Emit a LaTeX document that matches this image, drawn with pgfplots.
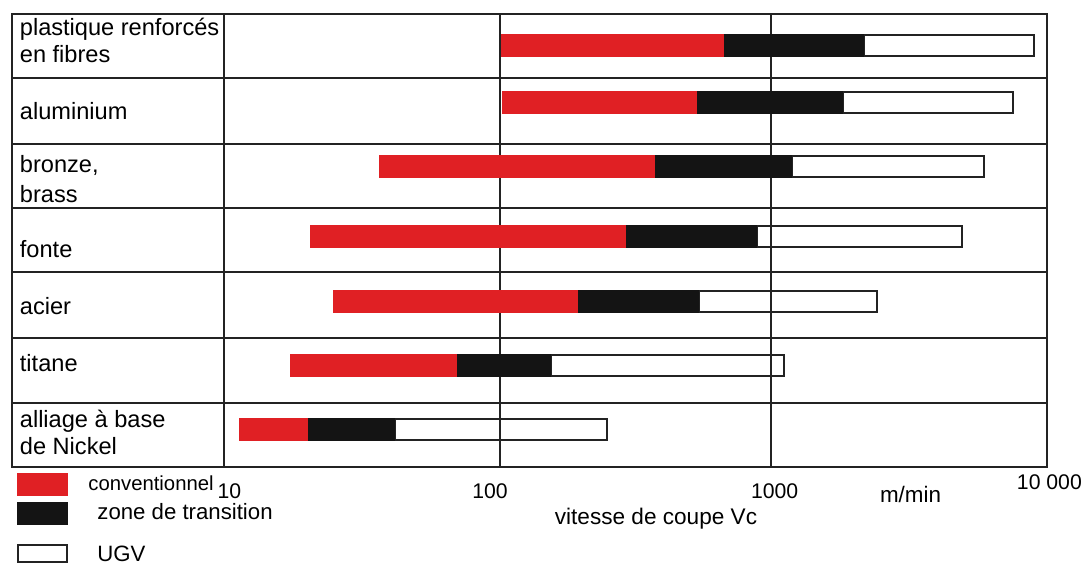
\documentclass[border=0pt]{standalone}
\usepackage{fontspec}
\setmainfont{Liberation Sans}
\usepackage{pgfplots}
\pgfplotsset{compat=1.18}
\definecolor{cred}{RGB}{224,32,36}
\definecolor{cblk}{RGB}{20,20,20}
\definecolor{cline}{RGB}{35,35,35}
\newcommand{\catfont}{\fontsize{11.8}{13.5}\selectfont}
\begin{document}
\begin{tikzpicture}
\useasboundingbox (0,0) rectangle (546pt,282.5pt);
% ---------- left column with material names ----------
\begin{axis}[
  at={(6pt,49pt)}, anchor=south west, scale only axis,
  width=106pt, height=226.5pt,
  xmin=12, xmax=224, ymin=-467, ymax=-14,
  xtick=\empty, ytick={-78,-144,-208,-272,-338,-403}, yticklabels={},
  major tick length=0pt, ymajorgrids,
  grid style={cline, line width=1.1pt},
  axis line style={cline, line width=1.1pt},
  clip=false]
\node[anchor=base west, font=\catfont, inner sep=0pt] at (axis cs:19.5,-36) {plastique renforcés};
\node[anchor=base west, font=\catfont, inner sep=0pt] at (axis cs:19.5,-63) {en fibres};
\node[anchor=base west, font=\catfont, inner sep=0pt] at (axis cs:19.5,-120) {aluminium};
\node[anchor=base west, font=\catfont, inner sep=0pt] at (axis cs:19.5,-173) {bronze,};
\node[anchor=base west, font=\catfont, inner sep=0pt] at (axis cs:19.5,-203) {brass};
\node[anchor=base west, font=\catfont, inner sep=0pt] at (axis cs:19.5,-258) {fonte};
\node[anchor=base west, font=\catfont, inner sep=0pt] at (axis cs:19.5,-315) {acier};
\node[anchor=base west, font=\catfont, inner sep=0pt] at (axis cs:19.5,-372) {titane};
\node[anchor=base west, font=\catfont, inner sep=0pt] at (axis cs:19.5,-428) {alliage à base};
\node[anchor=base west, font=\catfont, inner sep=0pt] at (axis cs:19.5,-455) {de Nickel};
\end{axis}
% ---------- main log axis ----------
\begin{axis}[
  at={(112pt,49pt)}, anchor=south west, scale only axis,
  width=411.5pt, height=226.5pt,
  xmode=log, xmin=9.559, xmax=10489, ymin=-467, ymax=-14,
  xtick={10,100,1000,10000},
  xticklabels={10,\kern-10pt 100,\kern4pt 1000,\kern8pt\raisebox{4.5pt}{10 000}},
  xticklabel style={anchor=base, yshift=-16pt, font=\fontsize{10.6}{12}\selectfont, text=black},
  extra x ticks={100,1000}, extra x tick labels={},
  extra x tick style={grid=major},
  ytick={-78,-144,-208,-272,-338,-403}, yticklabels={}, ymajorgrids,
  major tick length=0pt, minor tick length=0pt, xminorticks=false,
  grid style={cline, line width=1.1pt},
  axis line style={cline, line width=1.1pt},
  clip=false]
% UGV (open boxes)
\addplot[draw=cline, line width=1pt, line join=miter] coordinates {(2212,-56) (9390,-56) (9390,-35) (2212,-35)} -- cycle;
\addplot[draw=cline, line width=1pt, line join=miter] coordinates {(1845,-113) (7834,-113) (7834,-92) (1845,-92)} -- cycle;
\addplot[draw=cline, line width=1pt, line join=miter] coordinates {(1202,-177) (6152,-177) (6152,-156) (1202,-156)} -- cycle;
\addplot[draw=cline, line width=1pt, line join=miter] coordinates {(888,-247) (5104,-247) (5104,-226) (888,-226)} -- cycle;
\addplot[draw=cline, line width=1pt, line join=miter] coordinates {(545,-312) (2476,-312) (2476,-291) (545,-291)} -- cycle;
\addplot[draw=cline, line width=1pt, line join=miter] coordinates {(154,-376) (1123,-376) (1123,-355) (154,-355)} -- cycle;
\addplot[draw=cline, line width=1pt, line join=miter] coordinates {(40.9,-440) (248,-440) (248,-419) (40.9,-419)} -- cycle;
% zone de transition (black)
\addplot[fill=cblk, draw=none] coordinates {(674,-57) (2212,-57) (2212,-34) (674,-34)} -- cycle;
\addplot[fill=cblk, draw=none] coordinates {(533,-114) (1845,-114) (1845,-91) (533,-91)} -- cycle;
\addplot[fill=cblk, draw=none] coordinates {(373,-178) (1202,-178) (1202,-155) (373,-155)} -- cycle;
\addplot[fill=cblk, draw=none] coordinates {(291,-248) (888,-248) (888,-225) (291,-225)} -- cycle;
\addplot[fill=cblk, draw=none] coordinates {(194,-313) (545,-313) (545,-290) (194,-290)} -- cycle;
\addplot[fill=cblk, draw=none] coordinates {(69.6,-377) (154,-377) (154,-354) (69.6,-354)} -- cycle;
\addplot[fill=cblk, draw=none] coordinates {(19.6,-441) (40.9,-441) (40.9,-418) (19.6,-418)} -- cycle;
% conventionnel (red)
\addplot[fill=cred, draw=none] coordinates {(101,-57) (674,-57) (674,-34) (101,-34)} -- cycle;
\addplot[fill=cred, draw=none] coordinates {(102,-114) (533,-114) (533,-91) (102,-91)} -- cycle;
\addplot[fill=cred, draw=none] coordinates {(35.8,-178) (373,-178) (373,-155) (35.8,-155)} -- cycle;
\addplot[fill=cred, draw=none] coordinates {(19.9,-248) (291,-248) (291,-225) (19.9,-225)} -- cycle;
\addplot[fill=cred, draw=none] coordinates {(24.1,-313) (194,-313) (194,-290) (24.1,-290)} -- cycle;
\addplot[fill=cred, draw=none] coordinates {(16.8,-377) (69.6,-377) (69.6,-354) (16.8,-354)} -- cycle;
\addplot[fill=cred, draw=none] coordinates {(10.9,-441) (19.6,-441) (19.6,-418) (10.9,-418)} -- cycle;
\end{axis}
% ---------- axis texts ----------
\node[anchor=base, inner sep=0pt, font=\fontsize{11.3}{13}\selectfont] at (328pt,20pt) {vitesse de coupe Vc};
\node[anchor=base, inner sep=0pt, font=\fontsize{11.2}{13}\selectfont] at (455.25pt,31pt) {m/min};
% ---------- legend ----------
\fill[cred] (8.5pt,34.5pt) rectangle (34pt,46pt);
\fill[cblk] (8.5pt,20pt) rectangle (34pt,31.5pt);
\draw[cline, line width=1pt] (9pt,1.5pt) rectangle (33.5pt,10pt);
\node[anchor=base west, inner sep=0pt, font=\fontsize{10.15}{12}\selectfont] at (44pt,37pt) {conventionnel};
\node[anchor=base west, inner sep=0pt, font=\fontsize{11.1}{13}\selectfont] at (48.5pt,22.5pt) {zone de transition};
\node[anchor=base west, inner sep=0pt, font=\fontsize{11.1}{13}\selectfont] at (48.5pt,1.7pt) {UGV};
\end{tikzpicture}
\end{document}
